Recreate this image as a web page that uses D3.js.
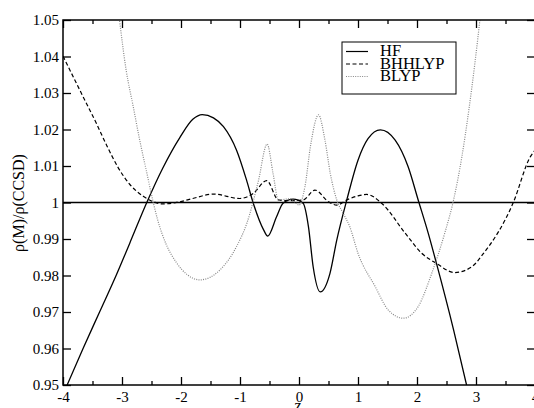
<!DOCTYPE html>
<html>
<head>
<meta charset="utf-8">
<script src="https://cdn.jsdelivr.net/npm/d3@7"></script>
<style>
  body { margin: 0; background: #fff; }
  text { font-family: "Liberation Serif", "Times New Roman", serif; }
</style>
</head>
<body>
<script>
// valores
var hfZ = [-3.93, -3.66, -3.38, -3.1, -2.87, -2.58, -2.31, -2.02, -1.8, -1.64, -1.45, -1.28, -1.06, -0.89,
           -0.775, -0.6, -0.53, -0.38, -0.27, -0.1, 0.07, 0.16, 0.24, 0.36, 0.525, 0.64, 0.81, 1.0, 1.17,
           1.38, 1.63, 1.85, 2.02, 2.19, 2.33, 2.62, 2.84];
var hfRatio = [0.95, 0.96, 0.97, 0.98, 0.9888, 1.0, 1.0094, 1.0178, 1.0228, 1.0241, 1.0232, 1.0208,
               1.0144, 1.0062, 0.9998, 0.9925, 0.9908, 0.9961, 0.9998, 1.0009, 0.9998, 0.9934, 0.9824,
               0.9755, 0.9806, 0.9897, 1.0007, 1.0116, 1.0175, 1.0199, 1.0171, 1.0098, 1.0007, 0.9916,
               0.9833, 0.9651, 0.95];

var bhhZ = [-4, -3.66, -3.435, -3.27, -3.07, -2.87, -2.64, -2.45, -2.31, -2.02, -1.8, -1.45, -1.0, -0.775,
            -0.547, -0.35, -0.15, 0.07, 0.27, 0.5, 0.64, 0.81, 1.0, 1.15, 1.4, 1.8, 2.08, 2.33, 2.64, 2.93,
            3.12, 3.63, 3.92, 4];
var bhhRatio = [1.0401, 1.029, 1.0217, 1.016, 1.0097, 1.005, 1.0017, 1.0001, 0.9996, 1.0002, 1.0011,
                1.0023, 1.0011, 1.0025, 1.006, 1.0007, 1.0005, 1.0007, 1.0034, 1.0002, 0.9993, 1.0007,
                1.0018, 1.0022, 0.9998, 0.9916, 0.9861, 0.9833, 0.9808, 0.9824, 0.9859, 0.9999, 1.0125,
                1.0143];

var blypZ = [-3.05, -2.93, -2.81, -2.7, -2.59, -2.47, -2.4, -2.25, -2.08, -1.9, -1.68, -1.34, -1.06,
             -0.88, -0.69, -0.54, -0.44, -0.35, -0.15, 0.0, 0.1, 0.2, 0.33, 0.44, 0.53, 0.64, 0.75,
             0.86, 1.0, 1.29, 1.51, 1.77, 2.02, 2.25, 2.47, 2.62, 2.76, 2.88, 2.98, 3.08];
var blypRatio = [1.051, 1.0363, 1.0263, 1.0171, 1.0089, 1.0, 0.9955, 0.9885, 0.9836, 0.9803, 0.9788,
                 0.9815, 0.9879, 0.9945, 1.0058, 1.016, 1.008, 1.0007, 1.001, 0.9993, 1.0043, 1.016,
                 1.024, 1.0171, 1.008, 1.0007, 0.997, 0.9934, 0.9861, 0.977, 0.9706, 0.9683, 0.9715,
                 0.9806, 0.9916, 1.0007, 1.0125, 1.0255, 1.038, 1.052];

var seriesNames = ['HF', 'BHHLYP', 'BLYP'];
var xTicks = [-4, -3, -2, -1, 0, 1, 2, 3, 4];
var xMinorTicks = [-3.5, -2.5, -1.5, -0.5, 0.5, 1.5, 2.5, 3.5];
var yTicks = [0.95, 0.96, 0.97, 0.98, 0.99, 1, 1.01, 1.02, 1.03, 1.04, 1.05];

var WIDTH = 534;
var HEIGHT = 408;
var LEFT = 63, RIGHT = 535, TOP = 20, BOTTOM = 385;

var svg = d3.select('body').append('svg')
  .attr('width', WIDTH)
  .attr('height', HEIGHT);

var x = d3.scaleLinear().domain([-4, 4]).range([LEFT, RIGHT]);
var y = d3.scaleLinear().domain([0.95, 1.05]).range([BOTTOM, TOP]);

svg.append('clipPath').attr('id', 'area')
  .append('rect')
  .attr('x', LEFT).attr('y', TOP)
  .attr('width', RIGHT - LEFT).attr('height', BOTTOM - TOP);

// linea de referencia en 1
svg.append('line')
  .attr('x1', x(-4)).attr('x2', x(4))
  .attr('y1', y(1)).attr('y2', y(1))
  .attr('stroke', 'black').attr('stroke-width', 1.5);

var line = d3.line()
  .x(function(d){ return x(d[0]); })
  .y(function(d){ return y(d[1]); })
  .curve(d3.curveMonotoneX);

function pares(zs, vs){
  return zs.map(function(z, i){ return [z, vs[i]]; });
}

var estilos = [
  {data: pares(hfZ, hfRatio), color: 'black', dash: null, w: 1.3},
  {data: pares(bhhZ, bhhRatio), color: 'black', dash: '4,2.5', w: 1.2},
  {data: pares(blypZ, blypRatio), color: '#888', dash: '1,1.3', w: 1.2}
];

svg.append('g').attr('clip-path', 'url(#area)')
  .selectAll('path')
  .data(estilos)
  .enter()
  .append('path')
  .attr('d', function(d){ return line(d.data); })
  .attr('fill', 'none')
  .attr('stroke', function(d){ return d.color; })
  .attr('stroke-width', function(d){ return d.w; })
  .attr('stroke-dasharray', function(d){ return d.dash; });

// ejes
function estiloEje(g){
  g.selectAll('.domain').remove();
  g.selectAll('line').attr('stroke', 'black').attr('stroke-width', 1.3);
  g.selectAll('text').attr('font-size', 15).attr('fill', 'black')
    .style('font-family', '"Liberation Serif", serif');
}

svg.append('g').attr('transform', 'translate(0,' + BOTTOM + ')')
  .call(d3.axisBottom(x).tickValues(xTicks).tickSize(-8).tickPadding(6)
    .tickFormat(function(d){ return String(d); }))
  .call(estiloEje);
svg.append('g').attr('transform', 'translate(0,' + BOTTOM + ')')
  .call(d3.axisBottom(x).tickValues(xMinorTicks).tickSize(-4).tickFormat(''))
  .call(estiloEje);
svg.append('g').attr('transform', 'translate(0,' + TOP + ')')
  .call(d3.axisTop(x).tickValues(xTicks).tickSize(-8).tickFormat(''))
  .call(estiloEje);
svg.append('g').attr('transform', 'translate(0,' + TOP + ')')
  .call(d3.axisTop(x).tickValues(xMinorTicks).tickSize(-4).tickFormat(''))
  .call(estiloEje);
svg.append('g').attr('transform', 'translate(' + LEFT + ',0)')
  .call(d3.axisLeft(y).tickValues(yTicks).tickSize(-8).tickPadding(4)
    .tickFormat(function(d){ return String(+d.toFixed(2)); }))
  .call(estiloEje);
svg.append('g').attr('transform', 'translate(' + RIGHT + ',0)')
  .call(d3.axisRight(y).tickValues(yTicks).tickSize(-8).tickFormat(''))
  .call(estiloEje);

// marco
svg.append('rect')
  .attr('x', LEFT).attr('y', TOP)
  .attr('width', RIGHT - LEFT).attr('height', BOTTOM - TOP)
  .attr('fill', 'none').attr('stroke', 'black').attr('stroke-width', 1.5);

// titulos de ejes
svg.append('text')
  .attr('x', (LEFT + RIGHT) / 2 - 1).attr('y', 411)
  .attr('text-anchor', 'middle').attr('font-size', 16)
  .text('z');
svg.append('text')
  .attr('transform', 'translate(24,' + 203 + ') rotate(-90)')
  .attr('text-anchor', 'middle').attr('font-size', 16)
  .text('ρ(M)/ρ(CCSD)');

// leyenda
var leyenda = svg.append('g');
leyenda.append('rect')
  .attr('x', 342).attr('y', 42).attr('width', 114).attr('height', 52)
  .attr('fill', 'white').attr('stroke', 'black').attr('stroke-width', 1);
var filas = leyenda.selectAll('g.fila')
  .data(seriesNames)
  .enter()
  .append('g')
  .attr('class', 'fila')
  .attr('transform', function(d, i){ return 'translate(0,' + (51.5 + i * 12.5) + ')'; });
filas.append('line')
  .attr('x1', 346).attr('x2', 368).attr('y1', 0).attr('y2', 0)
  .attr('stroke', function(d, i){ return estilos[i].color; })
  .attr('stroke-width', 1.2)
  .attr('stroke-dasharray', function(d, i){ return estilos[i].dash; });
filas.append('text')
  .attr('x', 380).attr('y', 4.5)
  .attr('font-size', 16.5)
  .text(function(d){ return d; });
</script>
</body>
</html>
